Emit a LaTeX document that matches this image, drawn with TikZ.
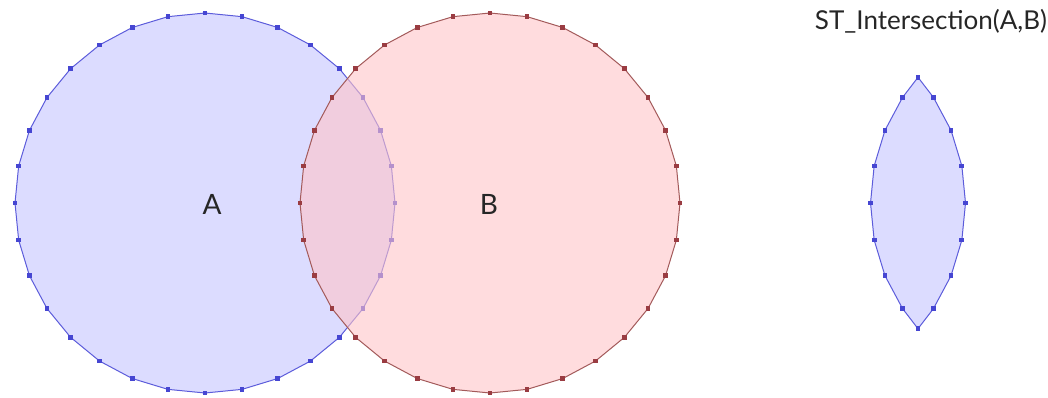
\documentclass[tikz,border=0pt]{standalone}
\usepackage{fontspec}
\setmainfont{Lato}
\definecolor{Aedge}{HTML}{5C5CDB}
\definecolor{Adot}{HTML}{4646D2}
\definecolor{Afill}{HTML}{DCDCFF}
\definecolor{Bedge}{HTML}{A35A5A}
\definecolor{Bdot}{HTML}{9A3C42}
\definecolor{Bfill}{HTML}{FFC4C8}
\usetikzlibrary{calc}
\tikzset{
  polyA/.style={draw=Aedge,fill=Afill,line width=0.5pt},
  polyB/.style={draw=Bedge,fill=Bfill,fill opacity=0.6,line width=0.5pt},
  lbl/.style={font=\fontsize{14}{16}\selectfont,text=black!85}
}

\begin{document}
\begin{tikzpicture}[x=0.5pt,y=-0.5pt]
  \useasboundingbox (0,0) rectangle (1048,397);
  % polygon A
  \begin{scope}[shift={(205,203)}]
    \draw[polyA] (0:190) \foreach \a in {11.25,22.5,...,348.75}{ -- (\a:190)} -- cycle;
    \foreach \a in {0,11.25,...,348.75} \fill[Adot] (\a:190) ++(-2.4,-2.4) rectangle ++(4.8,4.8);
  \end{scope}
  % polygon B, over A
  \begin{scope}[shift={(490,203)}]
    \draw[polyB] (0:190) \foreach \a in {11.25,22.5,...,348.75}{ -- (\a:190)} -- cycle;
    \foreach \a in {0,11.25,...,348.75} \fill[Bdot] (\a:190) ++(-2.4,-2.4) rectangle ++(4.8,4.8);
  \end{scope}
  \node[lbl] (labA) at (212,204) {A};
  \node[lbl] (labB) at (489,204) {B};
  % result of the intersection
  \begin{scope}[shift={(918,203)}]
    \draw[polyA] (0,-125.7)
      \foreach \a in {-33.75,-22.5,...,33.75}{ -- ([shift={(-142.5,0)}]\a:190)}
      -- (0,125.7)
      \foreach \a in {146.25,157.5,...,213.75}{ -- ([shift={(142.5,0)}]\a:190)}
      -- cycle;
    \foreach \a in {-33.75,-22.5,...,33.75} \fill[Adot] ([shift={(-142.5,0)}]\a:190) ++(-2.4,-2.4) rectangle ++(4.8,4.8);
    \foreach \a in {146.25,157.5,...,213.75} \fill[Adot] ([shift={(142.5,0)}]\a:190) ++(-2.4,-2.4) rectangle ++(4.8,4.8);
    \fill[Adot] (0,-125.7) ++(-2.4,-2.4) rectangle ++(4.8,4.8);
    \fill[Adot] (0,125.7) ++(-2.4,-2.4) rectangle ++(4.8,4.8);
  \end{scope}
  \node[lbl,font=\fontsize{13}{15}\selectfont] (title) at (931,21) {ST\_Intersection(A,B)};
\end{tikzpicture}
\end{document}
